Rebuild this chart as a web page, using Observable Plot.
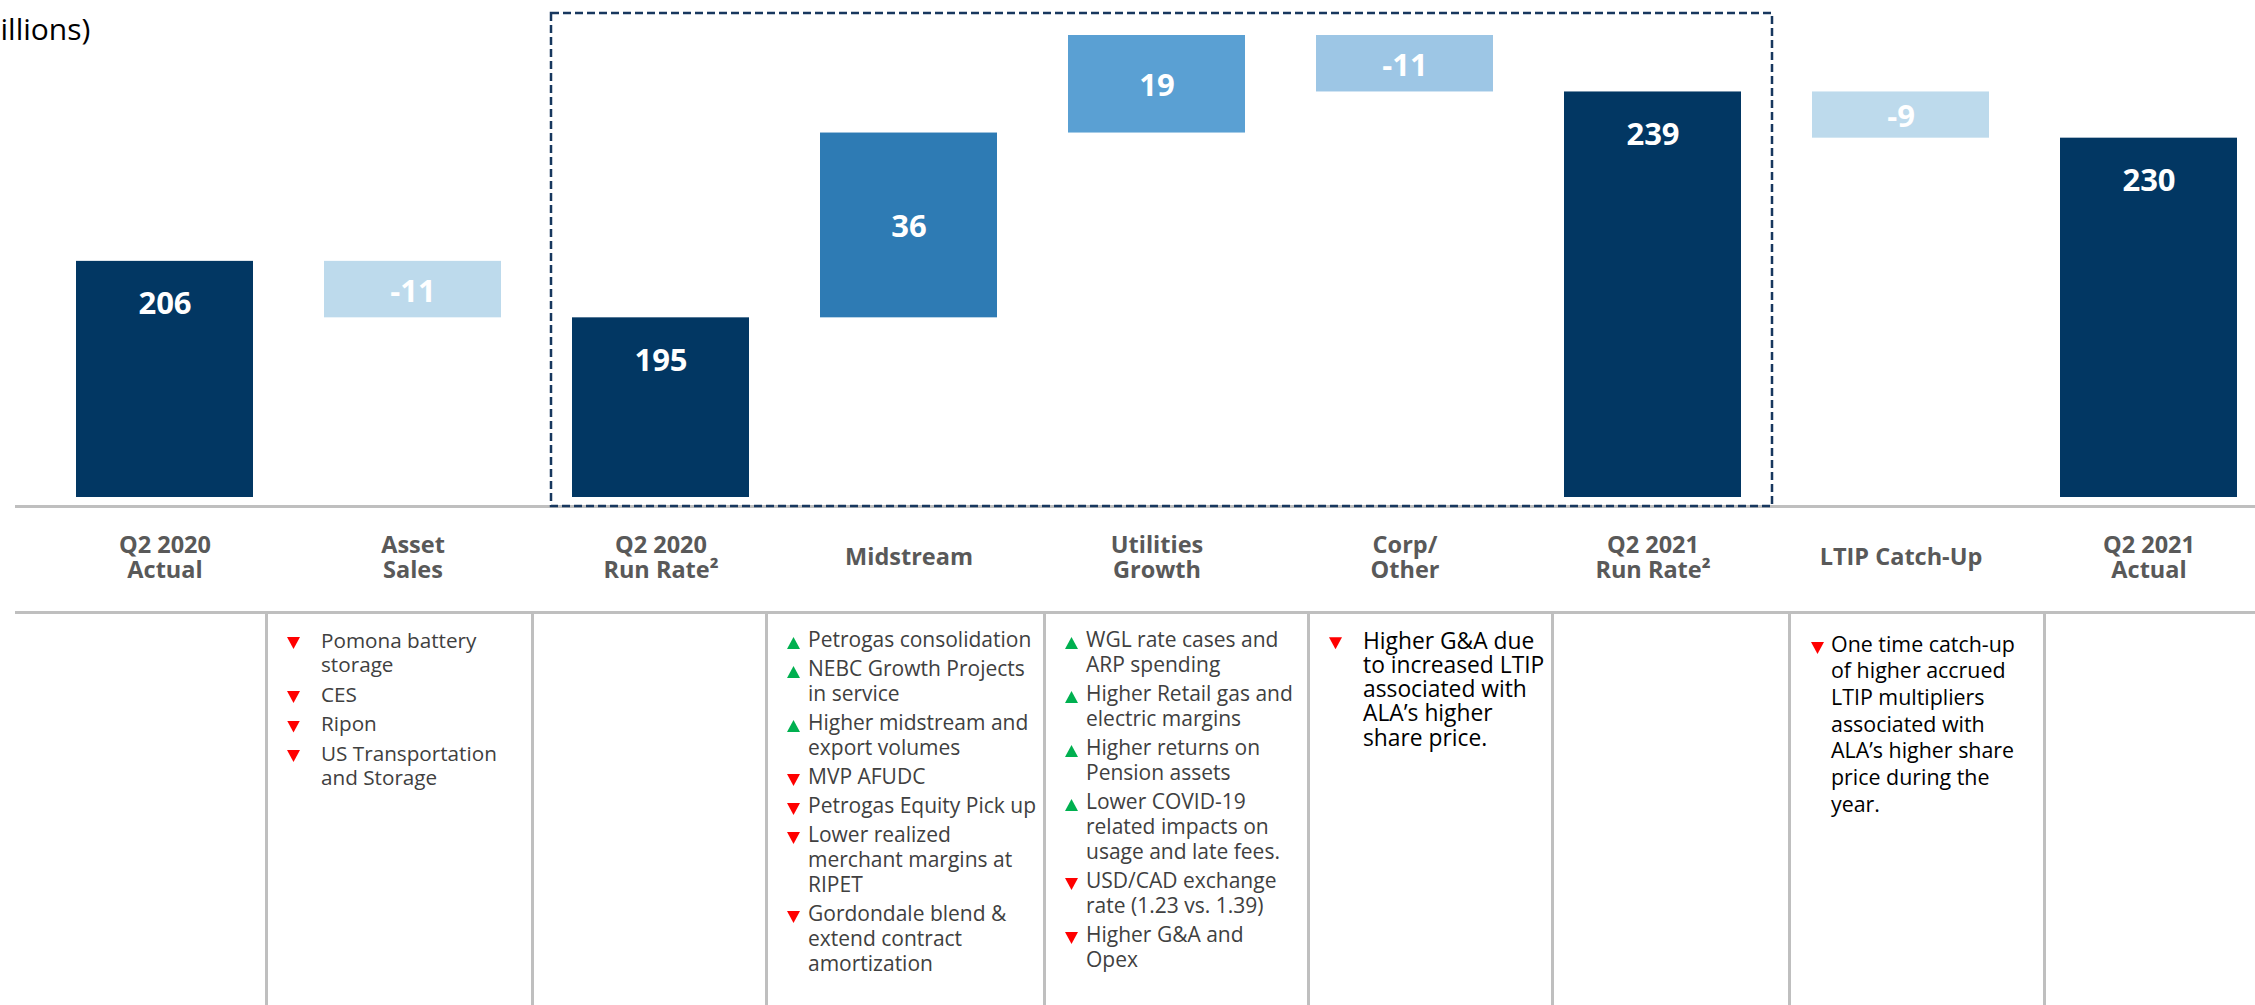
<!DOCTYPE html>
<html>
<head>
<meta charset="utf-8">
<script src="https://cdn.jsdelivr.net/npm/d3@7"></script>
<script src="https://cdn.jsdelivr.net/npm/@observablehq/plot@0.6"></script>
<style>
  html, body { margin: 0; padding: 0; background: #ffffff; overflow: hidden; }
  body { width: 2255px; height: 1005px; position: relative; font-family: 'Open Sans', sans-serif; }
  #chart { position: absolute; left: 0; top: 0; }
  #chart svg { display: block; }
  #notes {
    position: absolute; left: 15px; top: 611px; width: 2240px; height: 394px;
    box-sizing: border-box; border-top: 3px solid #bfbfbf;
    display: grid;
    grid-template-columns: 250px 266px 234px 278px 264px 244px 237px 255px 212px;
  }
  .col { position: relative; box-sizing: border-box; border-left: 3px solid #bfbfbf; }
  .col:first-child { border-left: none; }
  .list { position: absolute; left: 0; right: 0; }
  .item { position: relative; white-space: pre; }
  .tri { position: absolute; left: 19px; width: 13px; height: 12px; }
  .tri.down { background: #ff0000; clip-path: polygon(0 0, 100% 0, 50% 100%); }
  .tri.up { background: #00b050; clip-path: polygon(50% 0, 100% 100%, 0 100%); }

  /* Asset Sales */
  .c1 .list { top: 13.5px; font-size: 20.7px; line-height: 24.5px; color: #404040; }
  .c1 .item { padding-left: 53px; margin-bottom: 5px; }
  .c1 .tri { top: 9.5px; }
  /* Midstream, Utilities */
  .c3 .list, .c4 .list { top: 13.4px; font-size: 21px; line-height: 25px; color: #404040; }
  .c3 .item, .c4 .item { padding-left: 40px; margin-bottom: 4px; }
  .c3 .tri, .c4 .tri { top: 9.6px; }
  /* Corp / Other */
  .c5 .list { top: 14.6px; font-size: 22.8px; line-height: 24.3px; color: #000000; }
  .c5 .item { padding-left: 53px; }
  .c5 .tri { top: 8.6px; }
  /* LTIP */
  .c7 .list { top: 16.6px; font-size: 21.4px; line-height: 26.7px; color: #000000; }
  .c7 .item { padding-left: 40px; }
  .c7 .tri { top: 11.4px; left: 20px; }
</style>
</head>
<body>
<div id="chart"></div>
<div id="notes"></div>
<script>
// ---------- data ----------
const unitLabel = "illions)";
const categories = [
  "Q2 2020\nActual", "Asset\nSales", "Q2 2020\nRun Rate²", "Midstream",
  "Utilities\nGrowth", "Corp/\nOther", "Q2 2021\nRun Rate²", "LTIP Catch-Up", "Q2 2021\nActual"
];
const values = [206, -11, 195, 36, 19, -11, 239, -9, 230];
const isTotal = [true, false, true, false, false, false, true, false, true];

// notes below each category: [direction, text]
const actual2020Notes = [];
const assetSalesNotes = [
  ["down", "Pomona battery\nstorage"],
  ["down", "CES"],
  ["down", "Ripon"],
  ["down", "US Transportation\nand Storage"]
];
const runRate2020Notes = [];
const midstreamNotes = [
  ["up", "Petrogas consolidation"],
  ["up", "NEBC Growth Projects\nin service"],
  ["up", "Higher midstream and\nexport volumes"],
  ["down", "MVP AFUDC"],
  ["down", "Petrogas Equity Pick up"],
  ["down", "Lower realized\nmerchant margins at\nRIPET"],
  ["down", "Gordondale blend &\nextend contract\namortization"]
];
const utilitiesNotes = [
  ["up", "WGL rate cases and\nARP spending"],
  ["up", "Higher Retail gas and\nelectric margins"],
  ["up", "Higher returns on\nPension assets"],
  ["up", "Lower COVID-19\nrelated impacts on\nusage and late fees."],
  ["down", "USD/CAD exchange\nrate (1.23 vs. 1.39)"],
  ["down", "Higher G&A and\nOpex"]
];
const corpNotes = [
  ["down", "Higher G&A due\nto increased LTIP\nassociated with\nALA’s higher\nshare price."]
];
const runRate2021Notes = [];
const ltipNotes = [
  ["down", "One time catch-up\nof higher accrued\nLTIP multipliers\nassociated with\nALA’s higher share\nprice during the\nyear."]
];
const actual2021Notes = [];

// ---------- styles ----------
const barColors = ["#023763", "#BDDAEC", "#023763", "#2E7BB4", "#5AA0D3", "#9DC6E5", "#023763", "#BDDAEC", "#023763"];
const yMin = 160, yMax = 250;

// ---------- waterfall ----------
let run = 0;
const rows = categories.map((cat, i) => {
  const v = values[i];
  let y1, y2;
  if (isTotal[i]) { y1 = 0; y2 = v; }
  else { y1 = run; y2 = run + v; }
  run = y2;
  return {cat, value: v, total: isTotal[i], y1, y2, mid: (y1 + y2) / 2};
});

const chart = Plot.plot({
  width: 2255,
  height: 612,
  marginTop: 35,
  marginBottom: 115,
  marginLeft: 0,
  marginRight: 0,
  style: {fontFamily: "'Open Sans', sans-serif", background: "transparent"},
  x: {type: "band", domain: categories, paddingInner: 0.285, paddingOuter: 0.171, align: 0.81, axis: null},
  y: {domain: [yMin, yMax], axis: null},
  color: {type: "ordinal", domain: categories, range: barColors},
  marks: [
    Plot.ruleY([yMin], {dy: 9, stroke: "#BFBFBF", strokeWidth: 3, insetLeft: 15}),
    Plot.barY(rows, {x: "cat", y1: "y1", y2: "y2", fill: "cat", clip: true}),
    Plot.text(rows.filter(d => d.total), {
      x: "cat", y: "y2", text: d => String(d.value), dy: 43,
      fill: "white", fontSize: 31, fontWeight: "bold", lineAnchor: "middle"
    }),
    Plot.text(rows.filter(d => !d.total), {
      x: "cat", y: "mid", text: d => String(d.value), dy: 2,
      fill: "white", fontSize: 31, fontWeight: "bold", lineAnchor: "middle"
    }),
    Plot.text(categories, {
      x: d => d, text: d => d, frameAnchor: "bottom", lineAnchor: "middle", dy: 60,
      lineHeight: 1.06, fontSize: 23.5, fontWeight: "bold", fill: "#595959"
    }),
    Plot.text([unitLabel], {
      text: d => d, frameAnchor: "top-left", textAnchor: "start", lineAnchor: "middle",
      dy: -5, fontSize: 30, fill: "#000000"
    })
  ]
});
document.getElementById("chart").appendChild(chart);

// dashed box around the run-rate bridge, placed with the plot's own scales
(function () {
  const xs = chart.scale("x"), ys = chart.scale("y");
  let bw = xs.bandwidth;
  let xa = xs.apply;
  if (typeof xa !== "function" || bw == null) {
    const b = d3.scaleBand(xs.domain, xs.range).paddingInner(0.285).paddingOuter(0.171).align(0.81);
    xa = b; bw = b.bandwidth();
  }
  const left = xa(categories[2]) - 21;
  const right = xa(categories[6]) + bw + 31;
  const top = ys.apply(yMax) - 22;
  const bottom = ys.apply(yMin) + 9;
  d3.select(chart).append("rect")
    .attr("x", left).attr("y", top)
    .attr("width", right - left).attr("height", bottom - top)
    .attr("fill", "none").attr("stroke", "#17375E")
    .attr("stroke-width", 2.5).attr("stroke-dasharray", "8,4");
})();

// ---------- notes table ----------
const notesByColumn = [actual2020Notes, assetSalesNotes, runRate2020Notes, midstreamNotes,
  utilitiesNotes, corpNotes, runRate2021Notes, ltipNotes, actual2021Notes];
const notes = d3.select("#notes");
notesByColumn.forEach((list, i) => {
  const col = notes.append("div").attr("class", "col c" + i);
  const l = col.append("div").attr("class", "list");
  list.forEach(([dir, txt]) => {
    const it = l.append("div").attr("class", "item");
    it.append("span").attr("class", "tri " + dir);
    it.append("span").text(txt);
  });
});
</script>
</body>
</html>
